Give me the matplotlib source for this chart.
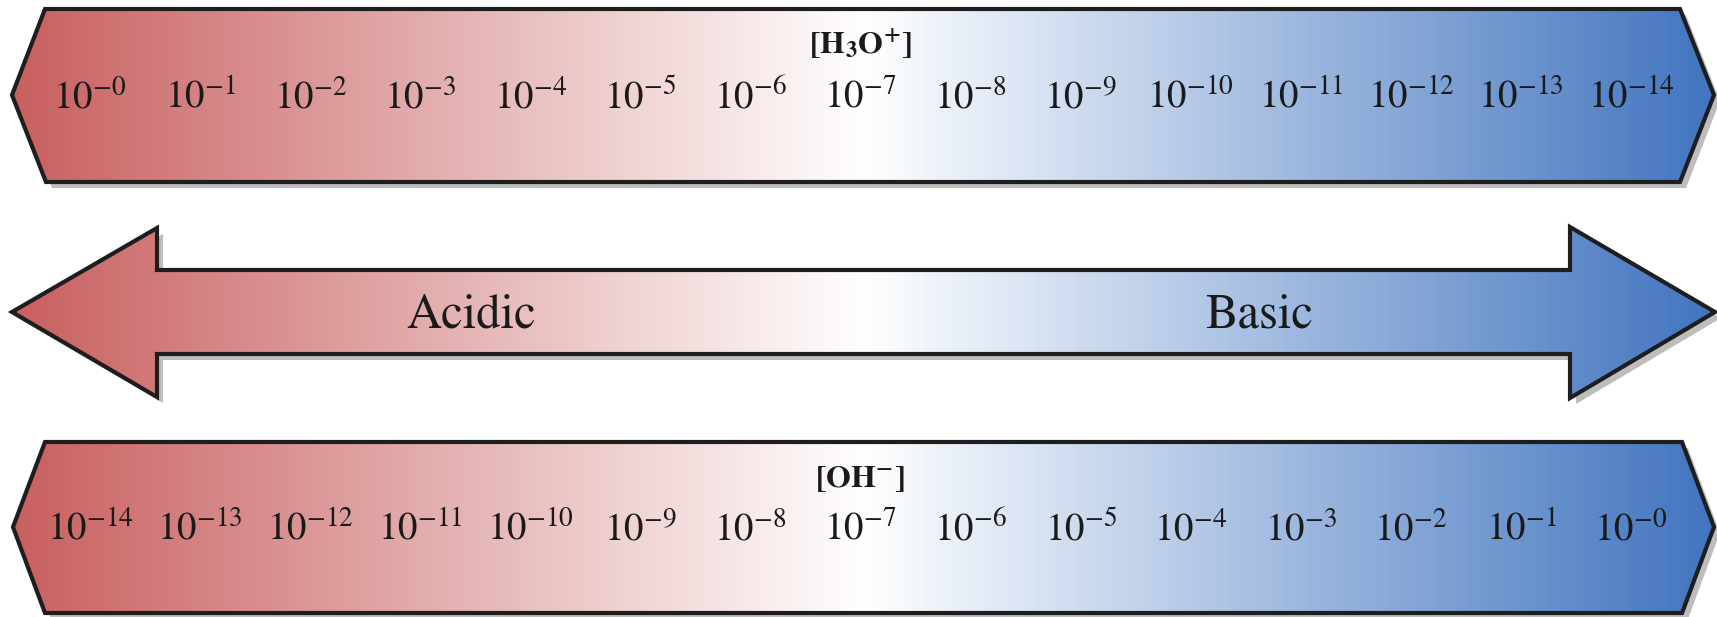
import numpy as np
import matplotlib
matplotlib.use("Agg")
import matplotlib.pyplot as plt
from matplotlib.patches import Polygon
from matplotlib.colors import LinearSegmentedColormap

plt.rcParams['mathtext.fontset'] = 'stix'
plt.rcParams['font.family'] = ['STIXGeneral', 'DejaVu Serif']

# ---- data ----
h3o_exponents = [0, 1, 2, 3, 4, 5, 6, 7, 8, 9, 10, 11, 12, 13, 14]
oh_exponents = [14, 13, 12, 11, 10, 9, 8, 7, 6, 5, 4, 3, 2, 1, 0]
h3o_title = r'$\mathbf{[H_3O^{+}]}$'
oh_title = r'$\mathbf{[OH^{-}]}$'
side_labels = ['Acidic', 'Basic']
gradient_colors = ['#C96060', '#FFFFFF', '#4275C0']

W, H = 1717, 617
fig = plt.figure(figsize=(W / 100, H / 100), dpi=100)
ax = fig.add_axes([0, 0, 1, 1])
ax.set_xlim(0, W)
ax.set_ylim(H, 0)
ax.axis('off')

cmap = LinearSegmentedColormap.from_list('ph', gradient_colors)
grad = np.linspace(0, 1, 512).reshape(1, -1)

def shape(pts, shadow=(6, 6)):
    sp = [(x + shadow[0], y + shadow[1]) for x, y in pts]
    ax.add_patch(Polygon(sp, closed=True, facecolor='#bdbdbd', edgecolor='none', zorder=1))
    im = ax.imshow(grad, cmap=cmap, extent=(12, 1715, H, 0), aspect='auto', zorder=2,
                   interpolation='bilinear')
    poly = Polygon(pts, closed=True, facecolor='none', edgecolor='#1e1e1e',
                   linewidth=3.0, joinstyle='miter', zorder=3)
    ax.add_patch(poly)
    clip = Polygon(pts, closed=True, transform=ax.transData)
    im.set_clip_path(clip)

# top band
top = [(12, 95), (45, 9), (1680, 9), (1714, 95), (1680, 182), (46, 182)]
shape(top)
# double arrow
arrow = [(12, 312), (157, 228), (157, 270), (1570, 270), (1570, 227), (1715, 312),
         (1570, 398), (1570, 354), (157, 354), (157, 397)]
shape(arrow)
# bottom band
bot = [(13, 527), (45, 442), (1682, 442), (1714, 527), (1682, 613), (45, 613)]
shape(bot)

label_x = np.linspace(90, 1631, len(h3o_exponents))
for x, e in zip(label_x, h3o_exponents):
    ax.text(x, 108, r'$10^{-%d}$' % e, ha='center', va='baseline', fontsize=28,
            color='#1a1a1a', zorder=5)
for x, e in zip(label_x, oh_exponents):
    ax.text(x, 540, r'$10^{-%d}$' % e, ha='center', va='baseline', fontsize=28,
            color='#1a1a1a', zorder=5)

ax.text(860, 54, h3o_title, ha='center', va='baseline', fontsize=23, color='#1a1a1a', zorder=5)
ax.text(860, 487, oh_title, ha='center', va='baseline', fontsize=23, color='#1a1a1a', zorder=5)

ax.text(471, 327, side_labels[0], ha='center', va='baseline', fontsize=35, color='#1a1a1a', zorder=5)
ax.text(1259, 327, side_labels[1], ha='center', va='baseline', fontsize=35, color='#1a1a1a', zorder=5)

fig.savefig('out.png', dpi=100)
